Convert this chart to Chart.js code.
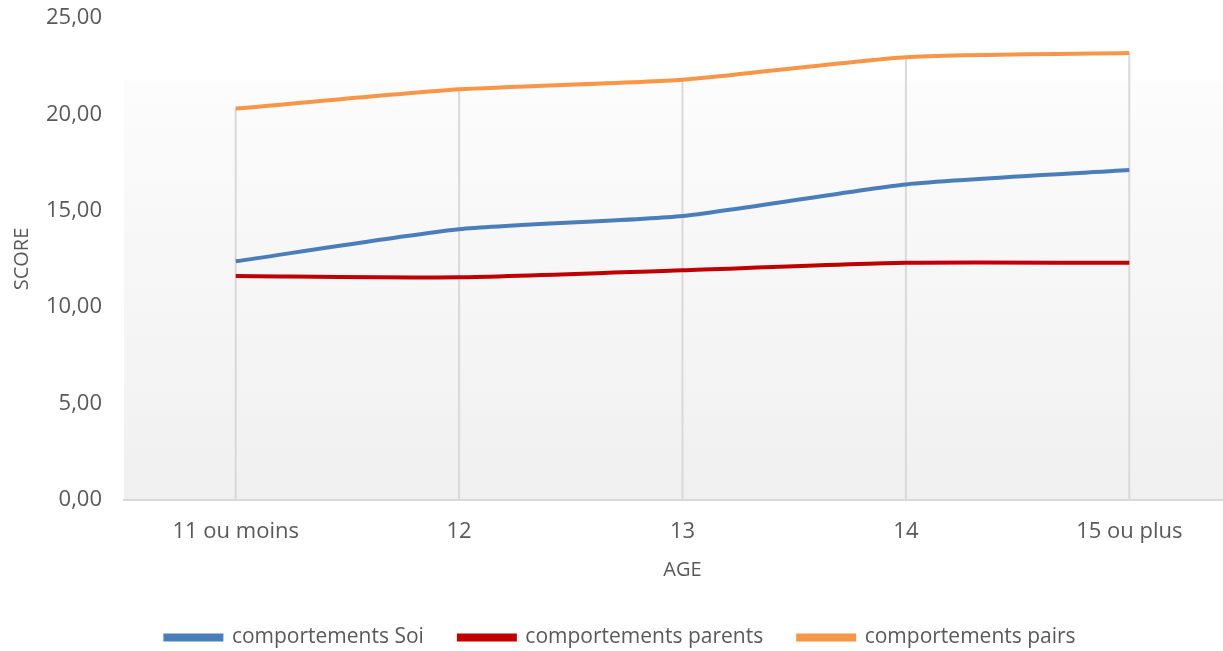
<!DOCTYPE html>
<html>
<head>
<meta charset="utf-8">
<script src="https://cdn.jsdelivr.net/npm/chart.js@4.4.1/dist/chart.umd.min.js"></script>
<style>
    html, body { margin: 0; padding: 0; background: #ffffff; overflow: hidden; }
    #wrap { width: 1241px; height: 658px; }
</style>
</head>
<body>
<div id="wrap"><canvas id="chart" width="1241" height="658"></canvas></div>
<script>
const ageLabels = ["11 ou moins", "12", "13", "14", "15 ou plus"];
const soiValues = [12.38, 14.04, 14.73, 16.37, 17.11];
const parentsValues = [11.62, 11.55, 11.92, 12.30, 12.30];
const pairsValues = [20.30, 21.30, 21.80, 22.97, 23.18];
const yTicks = [0, 5, 10, 15, 20, 25];

const TEXT = "#595959";
const FONT = "'Open Sans', 'Noto Sans', sans-serif";

// soft vertical gradient behind the lower part of the plot area
const plotBackground = {
    id: "plotBackground",
    beforeDraw(chart) {
        const { ctx, chartArea } = chart;
        if (!chartArea) return;
        const top = chartArea.top + (chartArea.bottom - chartArea.top) * 0.13;
        const grad = ctx.createLinearGradient(0, top, 0, chartArea.bottom);
        grad.addColorStop(0, "#fcfcfc");
        grad.addColorStop(1, "#f0f0f0");
        ctx.save();
        ctx.fillStyle = grad;
        ctx.fillRect(chartArea.left, top, chartArea.right - chartArea.left, chartArea.bottom - top);
        ctx.restore();
    }
};

// drop lines: from the highest series at each category down to the axis
const dropLines = {
    id: "dropLines",
    beforeDatasetsDraw(chart) {
        const { ctx, scales: { x, y } } = chart;
        ctx.save();
        ctx.strokeStyle = "#d9d9d9";
        ctx.lineWidth = 2;
        chart.data.labels.forEach((_, i) => {
            const top = Math.max(...chart.data.datasets.map(ds => ds.data[i]));
            const px = x.getPixelForValue(i);
            ctx.beginPath();
            ctx.moveTo(px, y.getPixelForValue(top));
            ctx.lineTo(px, y.getPixelForValue(0));
            ctx.stroke();
        });
        ctx.restore();
    }
};

const series = (label, data, color) => ({
    label,
    data,
    borderColor: color,
    backgroundColor: color,
    borderWidth: 4,
    pointRadius: 0,
    tension: 0.2,
    fill: false
});

new Chart(document.getElementById("chart").getContext("2d"), {
    type: "line",
    data: {
        labels: ageLabels,
        datasets: [
            series("comportements Soi", soiValues, "#4a7ebb"),
            series("comportements parents", parentsValues, "#c00000"),
            series("comportements pairs", pairsValues, "#f79646")
        ]
    },
    options: {
        responsive: false,
        animation: false,
        layout: { padding: { top: 18, left: 0, right: 0, bottom: 0 } },
        plugins: {
            tooltip: { enabled: false },
            legend: {
                position: "bottom",
                align: "center",
                labels: {
                    color: TEXT,
                    font: { family: FONT, size: 21 },
                    boxWidth: 56,
                    boxHeight: 4,
                    padding: 35
                }
            }
        },
        scales: {
            x: {
                offset: true,
                grid: { display: true, drawOnChartArea: false, drawTicks: false },
                border: { display: true, color: "#d9d9d9", width: 2 },
                ticks: { color: TEXT, font: { family: FONT, size: 22 }, padding: 19, maxRotation: 0 },
                title: { display: true, text: "AGE", color: TEXT, font: { family: FONT, size: 20 }, padding: { top: 0, bottom: 10 } },
                afterFit: (scale) => { scale.height = 92; }
            },
            y: {
                min: 0,
                max: 25,
                afterBuildTicks: (scale) => { scale.ticks = yTicks.map(v => ({ value: v })); },
                // invisible tick marks give the label gap without extra top padding
                grid: { display: true, drawOnChartArea: false, drawTicks: true, tickLength: 22, color: "rgba(0,0,0,0)" },
                border: { display: false },
                ticks: {
                    color: TEXT,
                    font: { family: FONT, size: 22 },
                    padding: 0,
                    callback: (v) => v.toFixed(2).replace(".", ",")
                },
                title: { display: true, text: "SCORE", color: TEXT, font: { family: FONT, size: 20 }, padding: { top: 10, bottom: 0 } },
                afterFit: (scale) => { scale.width = 124; }
            }
        }
    },
    plugins: [plotBackground, dropLines]
});
</script>
</body>
</html>
